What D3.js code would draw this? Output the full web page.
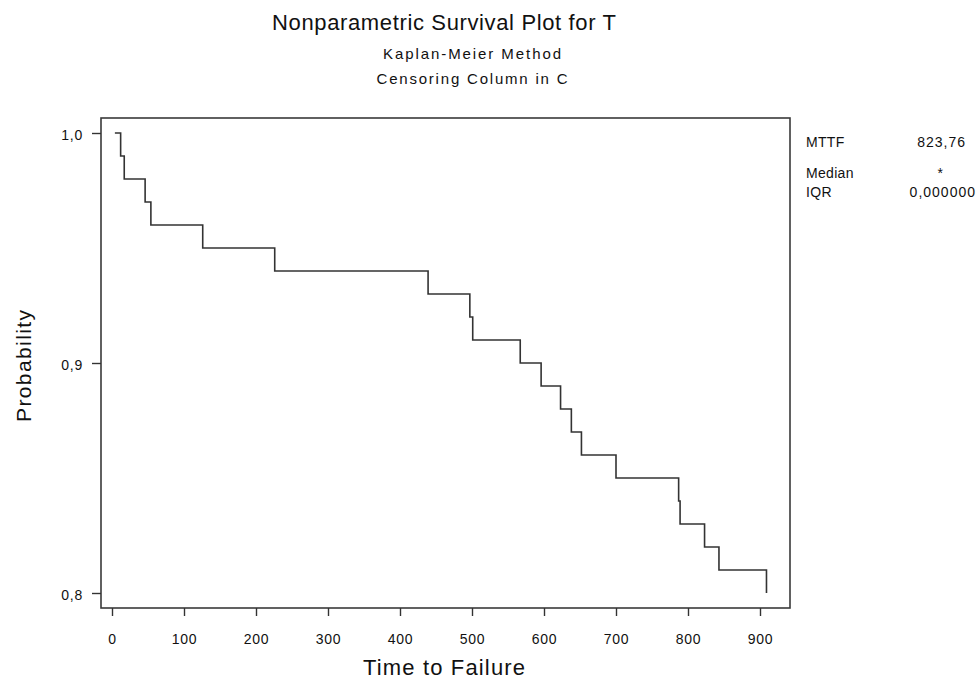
<!DOCTYPE html>
<html>
<head>
    <meta charset="utf-8">
    <script src="https://cdn.jsdelivr.net/npm/d3@7"></script>
    <style>
        body { margin: 0; background: #fff; }
        text { font-family: "Liberation Sans", Arial, sans-serif; fill: #111; }
    </style>
</head>

<body>
    <div id="container"></div>

    <script>
    // Kaplan-Meier estimate: failure times and survival probability after each step
    var times = [4, 12, 17, 46, 54, 126, 226, 439, 497, 501, 567, 596, 623, 638, 652, 700, 787, 789, 823, 843, 909];
    var survival = [1.00, 0.99, 0.98, 0.97, 0.96, 0.95, 0.94, 0.93, 0.92, 0.91, 0.90, 0.89, 0.88, 0.87, 0.86, 0.85, 0.84, 0.83, 0.82, 0.81, 0.80];

    var xTicks = [0, 100, 200, 300, 400, 500, 600, 700, 800, 900];
    var yTicks = [0.8, 0.9, 1.0];

    var statNames = ["MTTF", "Median", "IQR"];
    var statValues = ["823,76", "*", "0,000000"];

    var width = 978, height = 682;
    var frame = {left: 101, top: 118, right: 790, bottom: 608};

    var x = d3.scaleLinear().domain([0, 900]).range([112, 760]);
    var y = d3.scaleLinear().domain([0.8, 1.0]).range([593, 133]);

    // decimal comma, as in the original output
    var fmt = d3.formatLocale({decimal: ",", thousands: ".", grouping: [3], currency: ["", ""]}).format(".1f");

    var svg = d3.select("#container")
        .append("svg")
        .attr("width", width)
        .attr("height", height);

    // plot frame
    svg.append("rect")
        .attr("x", frame.left)
        .attr("y", frame.top)
        .attr("width", frame.right - frame.left)
        .attr("height", frame.bottom - frame.top)
        .attr("fill", "none")
        .attr("stroke", "#3a3a3a")
        .attr("stroke-width", 1.6);

    // axes
    var xAxis = d3.axisBottom(x)
        .tickValues(xTicks)
        .tickSize(8)
        .tickPadding(18)
        .tickFormat(d3.format("d"));

    var gx = svg.append("g")
        .attr("transform", "translate(0," + frame.bottom + ")")
        .call(xAxis);

    var yAxis = d3.axisLeft(y)
        .tickValues(yTicks)
        .tickSize(9)
        .tickPadding(9)
        .tickFormat(fmt);

    var gy = svg.append("g")
        .attr("transform", "translate(" + frame.left + ",0)")
        .call(yAxis);

    [gx, gy].forEach(function (g) {
        g.select(".domain").remove();
        g.selectAll(".tick line").attr("stroke", "#333").attr("stroke-width", 1.4);
        g.selectAll(".tick text")
            .style("font-family", "'Liberation Sans', Arial, sans-serif")
            .style("font-size", "14px")
            .style("letter-spacing", "0.8px")
            .attr("fill", "#222");
    });
    gy.selectAll(".tick text").attr("dy", "0.45em");

    // survival step curve
    var pts = times.map(function (t, i) { return [t, survival[i]]; });

    var line = d3.line()
        .x(function (d) { return x(d[0]); })
        .y(function (d) { return y(d[1]); })
        .curve(d3.curveStepAfter);

    svg.append("path")
        .datum(pts)
        .attr("d", line)
        .attr("fill", "none")
        .attr("stroke", "#333")
        .attr("stroke-width", 1.6);

    // titles
    svg.append("text")
        .attr("x", 444).attr("y", 30)
        .attr("text-anchor", "middle")
        .attr("textLength", 344)
        .attr("lengthAdjust", "spacing")
        .style("font-size", "22px")
        .text("Nonparametric Survival Plot for T");

    svg.append("text")
        .attr("x", 472).attr("y", 59)
        .attr("text-anchor", "middle")
        .attr("textLength", 178)
        .attr("lengthAdjust", "spacing")
        .style("font-size", "15px")
        .text("Kaplan-Meier Method");

    svg.append("text")
        .attr("x", 472).attr("y", 84)
        .attr("text-anchor", "middle")
        .attr("textLength", 191)
        .attr("lengthAdjust", "spacing")
        .style("font-size", "15px")
        .text("Censoring Column in C");

    svg.append("text")
        .attr("x", 444).attr("y", 675)
        .attr("text-anchor", "middle")
        .attr("textLength", 162)
        .attr("lengthAdjust", "spacing")
        .style("font-size", "22px")
        .text("Time to Failure");

    svg.append("text")
        .attr("transform", "translate(31,366) rotate(-90)")
        .attr("text-anchor", "middle")
        .attr("textLength", 112)
        .attr("lengthAdjust", "spacing")
        .style("font-size", "21px")
        .text("Probability");

    // summary table
    var statY = [147, 178, 197];
    var statRight = [966, 944, 976];

    svg.selectAll(".stat-name")
        .data(statNames)
        .enter().append("text")
        .attr("class", "stat-name")
        .attr("x", 806)
        .attr("y", function (d, i) { return statY[i]; })
        .style("font-size", "14px")
        .style("letter-spacing", "0.3px")
        .text(function (d) { return d; });

    svg.selectAll(".stat-value")
        .data(statValues)
        .enter().append("text")
        .attr("class", "stat-value")
        .attr("x", function (d, i) { return statRight[i]; })
        .attr("y", function (d, i) { return statY[i]; })
        .attr("text-anchor", "end")
        .style("font-size", "14px")
        .style("letter-spacing", "1px")
        .text(function (d) { return d; });
    </script>
</body>
</html>
